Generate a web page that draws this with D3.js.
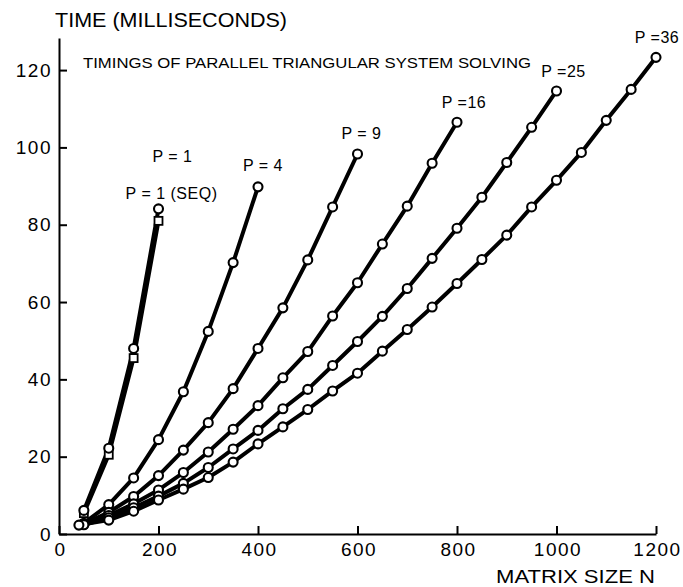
<!DOCTYPE html>
<html>
<head>
<meta charset="utf-8">
<script src="https://cdn.jsdelivr.net/npm/d3@7"></script>
<style>
  body { margin: 0; background: #fff; }
  svg { display: block; font-family: "Liberation Sans", Arial, sans-serif; }
</style>
</head>
<body>
<svg id="chart" width="683" height="587"></svg>
<script>
// values (N = matrix size, T = milliseconds)
const nP1 = [50, 100, 150, 200];
const tP1 = [6.1, 22.2, 48, 84.1];
const tSeq = [5.4, 20.5, 45.5, 81];

const nP4 = [50, 100, 150, 200, 250, 300, 350, 400];
const tP4 = [2.8, 7.6, 14.5, 24.4, 36.8, 52.4, 70.2, 89.8];

const nP9 = [50, 100, 150, 200, 250, 300, 350, 400, 450, 500, 550, 600];
const tP9 = [2.6, 5.6, 9.7, 15.1, 21.7, 28.8, 37.6, 48, 58.5, 70.9, 84.6, 98.3];

const nP16 = [50, 100, 150, 200, 250, 300, 350, 400, 450, 500, 550, 600, 650, 700, 750, 800];
const tP16 = [2.5, 4.8, 7.8, 11.4, 15.9, 21.2, 27.1, 33.2, 40.4, 47.2, 56.4, 65, 75, 84.8, 95.9, 106.5];

const nP25 = [50, 100, 150, 200, 250, 300, 350, 400, 450, 500, 550, 600, 650, 700, 750, 800, 850, 900, 950, 1000];
const tP25 = [2.4, 4.2, 6.8, 9.8, 13.1, 17.2, 22, 26.8, 32.4, 37.4, 43.6, 49.8, 56.3, 63.5, 71.3, 79.1, 87.1, 96.1, 105.2, 114.6];

const nP36 = [40, 100, 150, 200, 250, 300, 350, 400, 450, 500, 550, 600, 650, 700, 750, 800, 850, 900, 950, 1000, 1050, 1100, 1150, 1200];
const tP36 = [2.3, 3.6, 5.9, 8.8, 11.6, 14.6, 18.6, 23.3, 27.7, 32.2, 37, 41.6, 47.3, 52.9, 58.7, 64.8, 71, 77.3, 84.6, 91.5, 98.7, 107, 115, 123.3];

const xTicks = [0, 200, 400, 600, 800, 1000, 1200];
const yTicks = [0, 20, 40, 60, 80, 100, 120];

const titleText = 'TIME (MILLISECONDS)';
const subtitleText = 'TIMINGS OF PARALLEL TRIANGULAR SYSTEM SOLVING';
const xTitleText = 'MATRIX SIZE N';

// series table built from the arrays above; dx/dy place the label over the last point
const series = [
    { label: 'P = 1 (SEQ)', n: nP1, t: tSeq, marker: 'square', dx: 13, dy: -27 },
    { label: 'P = 1', n: nP1, t: tP1, marker: 'circle', dx: 14, dy: -52 },
    { label: 'P = 4', n: nP4, t: tP4, marker: 'circle', dx: 5, dy: -21 },
    { label: 'P = 9', n: nP9, t: tP9, marker: 'circle', dx: 4, dy: -20 },
    { label: 'P =16', n: nP16, t: tP16, marker: 'circle', dx: 7, dy: -20 },
    { label: 'P =25', n: nP25, t: tP25, marker: 'circle', dx: 7, dy: -19 },
    { label: 'P =36', n: nP36, t: tP36, marker: 'circle', dx: 1, dy: -20 },
];

const svg = d3.select('#chart');

const x = d3.scaleLinear().domain([0, 1200]).range([59, 656]);
const y = d3.scaleLinear().domain([0, 128.3]).range([534, 38]);

// axes, ticks pointing inward
const xAxis = svg.append('g')
    .attr('transform', `translate(0,${y(0)})`)
    .call(d3.axisBottom(x).tickValues(xTicks).tickFormat(d3.format('d'))
        .tickSizeInner(-8).tickSizeOuter(0).tickPadding(9));

const yAxis = svg.append('g')
    .attr('transform', `translate(${x(0)},0)`)
    .call(d3.axisLeft(y).tickValues(yTicks).tickFormat(d3.format('d'))
        .tickSizeInner(-8).tickSizeOuter(0).tickPadding(7));

[xAxis, yAxis].forEach((ax) => {
    ax.selectAll('path, line').attr('stroke', '#000').attr('stroke-width', 2);
    ax.selectAll('text')
        .attr('fill', '#000')
        .style('font-size', '19px')
        .style('letter-spacing', '1.5px');
});
xAxis.selectAll('text').attr('dx', '1px');

const line = d3.line()
    .x((d) => x(d[0]))
    .y((d) => y(d[1]));

const plot = svg.append('g');

series.forEach((s) => {
    const pts = s.n.map((v, i) => [v, s.t[i]]);
    plot.append('path')
        .datum(pts)
        .attr('d', line)
        .attr('fill', 'none')
        .attr('stroke', '#000')
        .attr('stroke-width', 4)
        .attr('stroke-linejoin', 'round');
});

series.forEach((s) => {
    const pts = s.n.map((v, i) => [v, s.t[i]]);
    if (s.marker === 'square') {
        plot.selectAll(null)
            .data(pts)
            .enter()
            .append('rect')
            .attr('x', (d) => x(d[0]) - 4)
            .attr('y', (d) => y(d[1]) - 4)
            .attr('width', 8)
            .attr('height', 8)
            .attr('fill', '#fff')
            .attr('stroke', '#000')
            .attr('stroke-width', 1.8);
    } else {
        plot.selectAll(null)
            .data(pts)
            .enter()
            .append('circle')
            .attr('cx', (d) => x(d[0]))
            .attr('cy', (d) => y(d[1]))
            .attr('r', 4.5)
            .attr('fill', '#fff')
            .attr('stroke', '#000')
            .attr('stroke-width', 2.1);
    }

    const last = pts[pts.length - 1];
    plot.append('text')
        .attr('x', x(last[0]) + s.dx)
        .attr('y', y(last[1]) + s.dy)
        .attr('text-anchor', 'middle')
        .attr('dominant-baseline', 'central')
        .style('font-size', '16px')
        .style('letter-spacing', '0.5px')
        .text(s.label);
});

// titles
svg.append('text')
    .attr('x', 55)
    .attr('y', 27)
    .attr('textLength', 232)
    .attr('lengthAdjust', 'spacingAndGlyphs')
    .style('font-size', '20px')
    .text(titleText);

svg.append('text')
    .attr('x', 83)
    .attr('y', 68)
    .attr('textLength', 448)
    .attr('lengthAdjust', 'spacingAndGlyphs')
    .style('font-size', '15px')
    .text(subtitleText);

svg.append('text')
    .attr('x', 496)
    .attr('y', 583)
    .attr('textLength', 159)
    .attr('lengthAdjust', 'spacingAndGlyphs')
    .style('font-size', '18px')
    .text(xTitleText);
</script>
</body>
</html>
